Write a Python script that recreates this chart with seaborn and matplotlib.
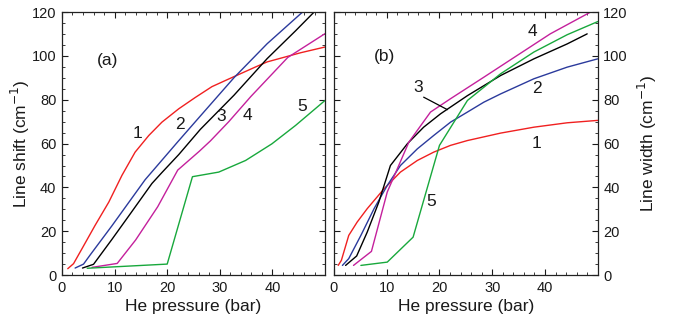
import numpy as np
import pandas as pd
import matplotlib
matplotlib.use("Agg")
import matplotlib.pyplot as plt
import seaborn as sns
from matplotlib.ticker import MultipleLocator

# ---- data: (a) line shift ----
a1_p = [1.1, 2.2, 3.8, 6.3, 8.9, 11.4, 13.9, 16.5, 19.0, 22.2, 25.3, 28.5, 31.7, 36.8, 39.0, 45.4, 50.0]
a1_v = [2.9, 5.2, 12.0, 22.7, 33.3, 45.5, 56.1, 63.7, 69.8, 75.9, 81.0, 86.0, 89.5, 95.0, 97.3, 101.5, 104.1]
a2_p = [2.5, 4.1, 5.4, 9.5, 15.8, 22.0, 26.3, 32.7, 39.0, 45.7]
a2_v = [3.2, 5.0, 9.3, 22.5, 43.5, 60.8, 72.6, 90.1, 105.6, 120.0]
a3_p = [3.9, 6.0, 9.5, 12.7, 17.1, 19.0, 22.2, 26.3, 32.7, 39.0, 44.4, 47.9]
a3_v = [3.2, 4.9, 16.3, 27.0, 41.8, 46.8, 55.0, 66.5, 82.1, 98.8, 111.5, 120.0]
a4_p = [5.7, 10.5, 14.0, 18.2, 22.0, 26.1, 28.2, 31.7, 35.9, 42.9, 50.0]
a4_v = [3.5, 5.3, 16.0, 31.2, 47.9, 56.5, 61.2, 70.0, 81.5, 99.3, 110.2]
a5_p = [4.8, 20.0, 24.8, 29.8, 34.9, 39.9, 44.4, 50.0]
a5_v = [3.1, 5.0, 44.9, 47.0, 52.3, 59.9, 68.3, 79.7]

# ---- data: (b) line width ----
b1_p = [0.8, 1.4, 2.8, 4.4, 6.3, 9.5, 12.6, 15.8, 18.9, 22.1, 25.3, 31.6, 37.9, 44.2, 50.0]
b1_v = [4.4, 6.7, 18.1, 24.2, 30.3, 39.4, 47.0, 52.3, 56.1, 59.2, 61.4, 64.8, 67.5, 69.5, 70.6]
b2_p = [1.6, 2.8, 5.1, 7.6, 10.1, 12.6, 15.8, 18.9, 22.1, 25.3, 28.4, 31.6, 37.9, 44.2, 50.0]
b2_v = [4.4, 7.5, 18.1, 30.3, 40.9, 50.0, 57.6, 63.7, 69.8, 74.4, 78.9, 82.7, 89.6, 94.9, 98.7]
b3_p = [2.2, 4.3, 6.3, 8.5, 10.7, 13.9, 17.0, 20.2, 25.3, 31.6, 37.9, 44.2, 48.0]
b3_v = [4.4, 8.7, 19.6, 33.3, 50.0, 59.9, 67.5, 73.6, 81.9, 91.1, 98.7, 105.5, 110.1]
b4_p = [3.7, 7.1, 10.1, 14.2, 18.3, 22.1, 28.4, 34.7, 41.0, 48.6, 50.0]
b4_v = [4.4, 10.8, 37.9, 60.7, 74.4, 80.5, 90.3, 100.2, 110.1, 120.0, 121.7]
b5_p = [5.1, 10.1, 15.0, 20.0, 25.3, 31.6, 37.9, 44.2, 50.0]
b5_v = [4.4, 5.9, 17.3, 59.2, 79.7, 91.9, 101.8, 109.7, 115.7]

curves = ["1", "2", "3", "4", "5"]
palette = {"1": "#f02020", "2": "#2b3a9c", "3": "#000000", "4": "#c4209c", "5": "#18a83c"}

def frame(ps, vs):
    rows = []
    for c, p, v in zip(curves, ps, vs):
        for pi, vi in zip(p, v):
            rows.append((c, pi, vi))
    return pd.DataFrame(rows, columns=["curve", "p", "v"])

df_a = frame([a1_p, a2_p, a3_p, a4_p, a5_p], [a1_v, a2_v, a3_v, a4_v, a5_v])
df_b = frame([b1_p, b2_p, b3_p, b4_p, b5_p], [b1_v, b2_v, b3_v, b4_v, b5_v])

sns.set_theme(style="ticks")
plt.rcParams['font.family'] = ['Liberation Sans', 'DejaVu Sans']
ink = "#1a1a1a"
plt.rcParams.update({"text.color": ink, "axes.labelcolor": ink,
                     "xtick.color": ink, "ytick.color": ink})

fig = plt.figure(figsize=(6.78, 3.29), dpi=100)
axa = fig.add_axes([0.0914, 0.164, 0.388, 0.799])
axb = fig.add_axes([0.4926, 0.164, 0.389, 0.799])

for ax, df in ((axa, df_a), (axb, df_b)):
    sns.lineplot(data=df, x="p", y="v", hue="curve", palette=palette, legend=False,
                 estimator=None, sort=False, ax=ax, linewidth=1.0)
    ax.set_xlim(0, 50)
    ax.set_ylim(0, 120)
    ax.xaxis.set_major_locator(MultipleLocator(10))
    ax.xaxis.set_minor_locator(MultipleLocator(2))
    ax.yaxis.set_major_locator(MultipleLocator(20))
    ax.yaxis.set_minor_locator(MultipleLocator(5))
    ax.tick_params(which="both", direction="in", top=True, right=True, left=True, bottom=True,
                   labelsize=10.5, pad=4)
    ax.tick_params(which="major", length=4, width=0.8)
    ax.tick_params(which="minor", length=2, width=0.6)
    for s in ax.spines.values():
        s.set_linewidth(0.9)
        s.set_color("#222222")
    ax.set_xlabel("He pressure (bar)", fontsize=12.5, labelpad=3)
    ax.set_xticks([0, 10, 20, 30, 40])

axa.set_ylabel("Line shift (cm$^{-1}$)", fontsize=12.5, labelpad=0)
axb.set_ylabel("Line width (cm$^{-1}$)", fontsize=12.5, labelpad=6)
axb.yaxis.set_label_position("right")
axb.tick_params(axis="y", labelleft=False, labelright=True)

fs = 12.5
axa.text(8.6, 98, "(a)", fontsize=fs, ha="center", va="center")
axa.text(14.3, 64.7, "1", fontsize=fs, ha="center", va="center")
axa.text(22.4, 68.5, "2", fontsize=fs, ha="center", va="center")
axa.text(30.2, 72.3, "3", fontsize=fs, ha="center", va="center")
axa.text(35.3, 73.0, "4", fontsize=fs, ha="center", va="center")
axa.text(45.7, 76.9, "5", fontsize=fs, ha="center", va="center")

axb.text(9.5, 99.8, "(b)", fontsize=fs, ha="center", va="center")
axb.text(37.6, 111.2, "4", fontsize=fs, ha="center", va="center")
axb.text(38.4, 85.3, "2", fontsize=fs, ha="center", va="center")
axb.text(38.4, 60.1, "1", fontsize=fs, ha="center", va="center")
axb.text(15.9, 85.7, "3", fontsize=fs, ha="center", va="center")
axb.plot([17.0, 21.5], [81.2, 75.5], color="black", linewidth=0.9)
axb.text(18.4, 33.5, "5", fontsize=fs, ha="center", va="center")

fig.savefig("out.png", dpi=100)
